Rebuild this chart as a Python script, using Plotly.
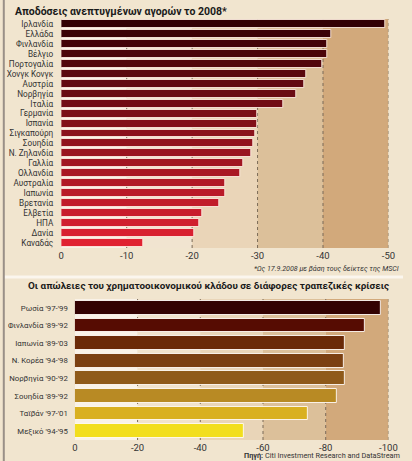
import plotly.graph_objects as go

# ---------------- data ----------------
top_countries = ["Ιρλανδία", "Ελλάδα", "Φινλανδία", "Βέλγιο", "Πορτογαλία", "Χονγκ Κονγκ",
                 "Αυστρία", "Νορβηγία", "Ιταλία", "Γερμανία", "Ισπανία", "Σιγκαπούρη",
                 "Σουηδία", "Ν. Ζηλανδία", "Γαλλία", "Ολλανδία", "Αυστραλία", "Ιαπωνία",
                 "Βρετανία", "Ελβετία", "ΗΠΑ", "Δανία", "Καναδάς"]
top_values = [-49.5, -41.2, -40.7, -40.6, -39.9, -37.5, -37.2, -35.9, -34.0, -30.0, -29.9,
              -29.6, -29.3, -29.0, -27.8, -27.4, -25.1, -25.0, -24.1, -21.6, -21.1, -20.4, -12.6]
top_ticks = [0, -10, -20, -30, -40, -50]

crisis_labels = ["Ρωσία '97-'99", "Φινλανδία '89-'92", "Ιαπωνία '89-'03", "Ν. Κορέα '94-'98",
                 "Νορβηγία '90-'92", "Σουηδία '89-'92", "Ταϊβάν '97-'01", "Μεξικό '94-'95"]
crisis_values = [-97.6, -92.4, -86.2, -85.9, -86.0, -83.5, -74.2, -53.9]
bottom_ticks = [0, -20, -40, -60, -80, -100]

# ---------------- style ----------------
W, H = 412, 461
BG = "#f1e5cf"
FONT = "Roboto"


def lerp(c1, c2, t):
    a = [int(c1[i:i + 2], 16) for i in (1, 3, 5)]
    b = [int(c2[i:i + 2], 16) for i in (1, 3, 5)]
    return "#" + "".join(f"{round(a[k] + (b[k] - a[k]) * t):02x}" for k in range(3))


n_top = len(top_countries)
top_colors = [lerp("#330004", "#e02232", i / (n_top - 1)) for i in range(n_top)]
bottom_colors = ["#330202", "#560c02", "#6b2a08", "#7b4012", "#8f5a1a", "#b88a24", "#d9b020", "#f2de1e"]

fig = go.Figure()
fig.add_trace(go.Bar(x=top_values, y=top_countries, orientation="h",
                     marker=dict(color=top_colors, line=dict(width=1, color="rgba(255,238,228,0.85)")),
                     width=0.8, xaxis="x", yaxis="y", hoverinfo="skip"))
fig.add_trace(go.Bar(x=crisis_values, y=crisis_labels, orientation="h",
                     marker=dict(color=bottom_colors, line=dict(width=1, color="rgba(255,250,245,0.9)")),
                     width=0.78, xaxis="x2", yaxis="y2", hoverinfo="skip"))

shapes = []
# background bands, top chart
top_bands = [(0, -10, "#f8f1e6"), (-10, -20, "#f1e4d0"), (-20, -30, "#ead5b8"),
             (-30, -40, "#dcc09a"), (-40, -50, "#d2a97b")]
for x0, x1, c in top_bands:
    shapes.append(dict(type="rect", xref="x", yref="y domain", x0=x0, x1=x1, y0=0, y1=1,
                       fillcolor=c, line_width=0, layer="below"))
bottom_bands = [(0, -20, "#f9f2e8"), (-20, -40, "#f1e3cd"), (-40, -60, "#e9d5b8"),
                (-60, -80, "#dcc09a"), (-80, -100, "#d2a97b")]
for x0, x1, c in bottom_bands:
    shapes.append(dict(type="rect", xref="x2", yref="y2 domain", x0=x0, x1=x1, y0=0, y1=1,
                       fillcolor=c, line_width=0, layer="below"))
# grid lines
for t in top_ticks[1:]:
    shapes.append(dict(type="line", xref="x", yref="y domain", x0=t, x1=t, y0=0, y1=1,
                       line=dict(color="#7a6a58", width=1, dash="dot"), layer="below"))
for t in bottom_ticks[1:]:
    shapes.append(dict(type="line", xref="x2", yref="y2 domain", x0=t, x1=t, y0=0, y1=1,
                       line=dict(color="#7a6a58", width=1, dash="dot"), layer="below"))
# separator between panels and border
shapes.append(dict(type="line", xref="paper", yref="paper", x0=0, x1=1, y0=1 - 277 / H, y1=1 - 277 / H,
                   line=dict(color="#fbf6ee", width=3)))
shapes.append(dict(type="line", xref="paper", yref="paper", x0=0.002, x1=0.002, y0=0, y1=1,
                   line=dict(color="#9a9088", width=2)))

annotations = [
    dict(text="<b>Αποδόσεις ανεπτυγμένων αγορών το 2008*</b>", xref="paper", yref="paper",
         x=10 / W, y=1 - 3 / H, xanchor="left", yanchor="top", showarrow=False,
         font=dict(family=FONT, size=10.5, color="#1a1a1a")),
    dict(text="<i>*Ως 17.9.2008 με βάση τους δείκτες της MSCI</i>", xref="paper", yref="paper",
         x=410 / W, y=1 - 268 / H, xanchor="right", yanchor="middle", showarrow=False,
         font=dict(family=FONT, size=7.1, color="#333333")),
    dict(text="<b>Οι απώλειες του χρηματοοικονομικού κλάδου σε διάφορες τραπεζικές κρίσεις</b>",
         xref="paper", yref="paper", x=24 / W, y=1 - 286 / H, xanchor="left", yanchor="middle",
         showarrow=False, font=dict(family=FONT, size=9.9, color="#1a1a1a")),
    dict(text="<b>Πηγή:</b> Citi Investment Research and DataStream", xref="paper", yref="paper",
         x=411 / W, y=1 - 455 / H, xanchor="right", yanchor="middle", showarrow=False,
         font=dict(family=FONT, size=7.3, color="#333333")),
]

fig.update_layout(
    width=W, height=H, margin=dict(l=0, r=0, t=0, b=0),
    paper_bgcolor=BG, plot_bgcolor="rgba(0,0,0,0)", showlegend=False, bargap=0,
    shapes=shapes, annotations=annotations,
    font=dict(family=FONT, color="#333333"),
    xaxis=dict(domain=[60 / W, 397 / W], range=[0, -50], tickvals=top_ticks,
               ticktext=[str(t) for t in top_ticks], showgrid=False, zeroline=False,
               showline=False, ticks="", tickfont=dict(size=9.5, color="#333333"),
               anchor="y", fixedrange=True),
    yaxis=dict(domain=[1 - 248 / H, 1 - 19 / H], range=[n_top - 0.5, -0.5], type="category",
               tickmode="array", tickvals=top_countries,
               showgrid=False, zeroline=False, showline=False, ticks="",
               tickfont=dict(size=8.2, color="#333333"), anchor="x", ticklabelstandoff=7),
    xaxis2=dict(domain=[74 / W, 397 / W], range=[0, -100], tickvals=bottom_ticks,
                ticktext=[str(t) for t in bottom_ticks], showgrid=False, zeroline=False,
                showline=False, ticks="", tickfont=dict(size=9.5, color="#333333"),
                anchor="y2", fixedrange=True),
    yaxis2=dict(domain=[1 - 440 / H, 1 - 299 / H], range=[len(crisis_labels) - 0.5, -0.5],
                type="category", tickmode="array", tickvals=crisis_labels,
                showgrid=False, zeroline=False, showline=False, ticks="",
                tickfont=dict(size=7.8, color="#333333"), anchor="x2", ticklabelstandoff=6),
)

fig.write_html("out.html", config={"displayModeBar": False},
               post_script="document.body.style.margin='0px';")
